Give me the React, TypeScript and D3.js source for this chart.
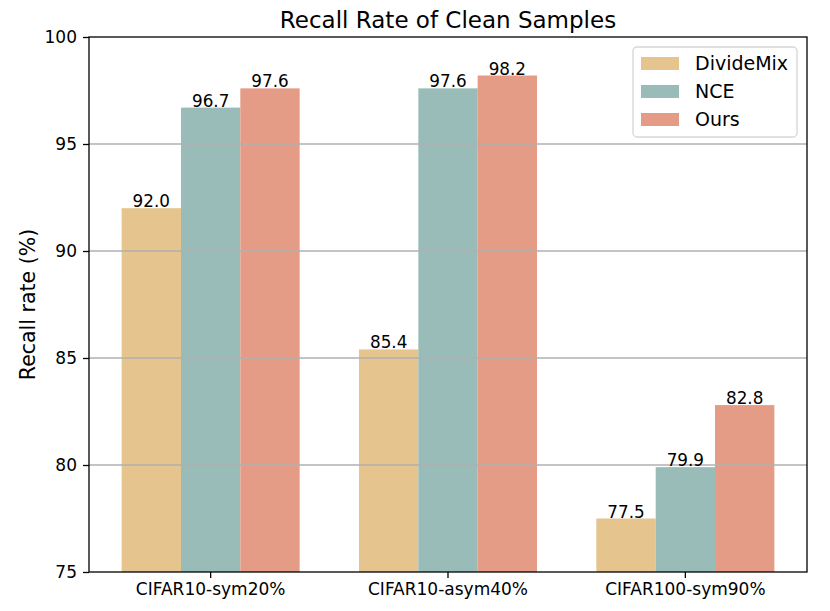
import { useEffect, useRef } from "react";
import * as d3 from "d3";

const categories = ["CIFAR10-sym20%", "CIFAR10-asym40%", "CIFAR100-sym90%"];
const seriesNames = ["DivideMix", "NCE", "Ours"];
const divideMix = [92.0, 85.4, 77.5];
const nce = [96.7, 97.6, 79.9];
const ours = [97.6, 98.2, 82.8];
const yTicks = [75, 80, 85, 90, 95, 100];

const COLORS = ["#e5c48d", "#99bcb8", "#e59c87"];
const FONT = "'DejaVu Sans', sans-serif";

const W = 830;
const H = 611;
const margin = { top: 37, right: 23, bottom: 39, left: 89 };

export default function App() {
  const svgRef = useRef<SVGSVGElement>(null);

  useEffect(() => {
    if (!svgRef.current) return;
    const svg = d3.select(svgRef.current);
    svg.selectAll("*").remove();

    const innerW = W - margin.left - margin.right;
    const innerH = H - margin.top - margin.bottom;
    const values = [divideMix, nce, ours];

    const x0 = d3.scaleBand<string>()
      .domain(categories)
      .range([0, innerW])
      .paddingInner(0.25)
      .paddingOuter(0.1375);
    const x1 = d3.scaleBand<string>()
      .domain(seriesNames)
      .range([0, x0.bandwidth()])
      .padding(0);
    const y = d3.scaleLinear().domain([75, 100]).range([innerH, 0]);

    const g = svg.append("g").attr("transform", `translate(${margin.left},${margin.top})`);

    // bars
    seriesNames.forEach((name, si) => {
      g.append("g")
        .selectAll("rect")
        .data(categories.map((c, ci) => ({ c, v: values[si][ci] })))
        .join("rect")
        .attr("x", (d) => (x0(d.c) ?? 0) + (x1(name) ?? 0))
        .attr("y", (d) => y(d.v))
        .attr("width", x1.bandwidth())
        .attr("height", (d) => innerH - y(d.v))
        .attr("fill", COLORS[si]);
    });

    // grid (over bars)
    g.append("g")
      .selectAll("line")
      .data(yTicks.filter((t) => t > 75 && t < 100))
      .join("line")
      .attr("x1", 0)
      .attr("x2", innerW)
      .attr("y1", (d) => y(d))
      .attr("y2", (d) => y(d))
      .attr("stroke", "#b0b0b0")
      .attr("stroke-width", 1.3);

    // value labels
    seriesNames.forEach((name, si) => {
      g.append("g")
        .selectAll("text")
        .data(categories.map((c, ci) => ({ c, v: values[si][ci] })))
        .join("text")
        .attr("x", (d) => (x0(d.c) ?? 0) + (x1(name) ?? 0) + x1.bandwidth() / 2)
        .attr("y", (d) => y(d.v) - 1)
        .attr("text-anchor", "middle")
        .attr("font-family", FONT)
        .attr("font-size", 16.8)
        .attr("fill", "#000")
        .text((d) => d.v.toFixed(1));
    });

    // frame
    g.append("rect")
      .attr("width", innerW)
      .attr("height", innerH)
      .attr("fill", "none")
      .attr("stroke", "#000")
      .attr("stroke-width", 1.3);

    // y axis
    g.append("g")
      .call(d3.axisLeft(y).tickValues(yTicks).tickSize(6).tickPadding(6).tickFormat((d) => String(d)))
      .call((a) => a.select(".domain").remove())
      .call((a) => a.selectAll("line").attr("stroke", "#000").attr("stroke-width", 1.3))
      .call((a) => a.selectAll("text").attr("font-family", FONT).attr("font-size", 17).attr("fill", "#000"));

    // x axis
    g.append("g")
      .attr("transform", `translate(0,${innerH})`)
      .call(d3.axisBottom(x0).tickSize(6).tickPadding(5))
      .call((a) => a.select(".domain").remove())
      .call((a) => a.selectAll("line").attr("stroke", "#000").attr("stroke-width", 1.3))
      .call((a) => a.selectAll("text").attr("font-family", FONT).attr("font-size", 17).attr("fill", "#000"));

    // title
    svg.append("text")
      .attr("x", margin.left + innerW / 2)
      .attr("y", 28)
      .attr("text-anchor", "middle")
      .attr("font-family", FONT)
      .attr("font-size", 23)
      .attr("fill", "#000")
      .text("Recall Rate of Clean Samples");

    // y label
    svg.append("text")
      .attr("transform", `translate(35,${margin.top + innerH / 2}) rotate(-90)`)
      .attr("text-anchor", "middle")
      .attr("font-family", FONT)
      .attr("font-size", 20.5)
      .attr("fill", "#000")
      .text("Recall rate (%)");

    // legend
    const lg = svg.append("g").attr("transform", "translate(633,47)");
    lg.append("rect")
      .attr("width", 164)
      .attr("height", 90)
      .attr("rx", 4)
      .attr("fill", "#fff")
      .attr("fill-opacity", 0.8)
      .attr("stroke", "#d6d6d6")
      .attr("stroke-width", 1.3);
    seriesNames.forEach((name, i) => {
      const row = lg.append("g").attr("transform", `translate(0,${16 + i * 28})`);
      row.append("rect")
        .attr("x", 8)
        .attr("y", -6)
        .attr("width", 38)
        .attr("height", 13)
        .attr("fill", COLORS[i]);
      row.append("text")
        .attr("x", 62)
        .attr("y", 0)
        .attr("dy", "0.35em")
        .attr("font-family", FONT)
        .attr("font-size", 19)
        .attr("fill", "#000")
        .text(name);
    });
  }, []);

  return (
    <div style={{ position: "fixed", left: 0, top: 0, background: "#fff" }}>
      <svg ref={svgRef} width={W} height={H} style={{ display: "block" }} />
    </div>
  );
}
